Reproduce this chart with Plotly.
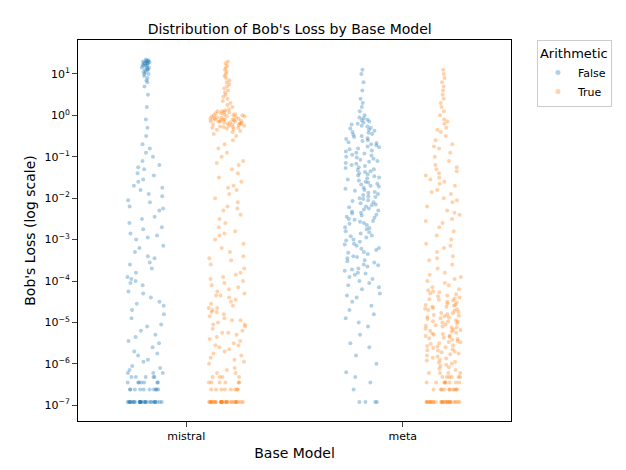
import plotly.graph_objects as go

models = ["mistral", "meta"]
hue_labels = ["False", "True"]
colors = ["#1f77b4", "#ff7f0e"]

# log10 of Bob's loss
mistral_false = [float(v) for v in """
-6.92 -6.92 -6.92 -6.92 -6.92 -6.92 -6.92 -6.92 -6.92 -6.92 -6.92 -6.92 -6.92 -6.92 -6.92 -6.92 -6.92 -6.92 -6.92 -6.92
-6.92 -6.92 -6.92 -6.92 -6.92 -6.92 -6.92 -6.92 -6.92 -6.92 -6.62 -6.62 -6.62 -6.62 -6.62 -6.62 -6.62 -6.62 -6.62 -6.62
-6.45 -6.45 -6.45 -6.45 -6.45 -6.45 -6.45 -6.32 -6.32 -6.32 -6.32 -6.32 -6.22 -6.22 -6.22 -6.15 -6.1 -6.05 -5.95 -5.9
-5.8 -5.7 -5.6 -5.5 -5.45 -5.3 -5.2 -5.1 -5.05 -4.9 -4.8 -4.7 -4.6 -4.5 -4.4 -4.3 -4.25 -4.1 -4.0 -3.9
-3.8 -3.7 -3.6 -3.55 -3.4 -3.3 -3.2 -3.15 -3.0 -2.9 -2.85 -2.7 -2.6 -2.5 -2.45 -2.3 -2.25 -2.1 -2.05 -1.95
-1.9 -1.8 -1.7 -1.6 -1.55 -1.4 -1.3 -1.2 -1.1 -1.0 -0.9 -0.8 -0.7 -0.5 -0.3 -0.1 0.2 0.5 0.7 0.8
0.85 0.9 0.95 1.0 1.0 1.05 1.05 1.1 1.1 1.1 1.15 1.15 1.15 1.2 1.2 1.2 1.22 1.25 1.25 1.25
1.27 1.28 1.3 1.3 1.3 1.32 1.33 1.35 -5.35 -4.05 -3.45 -2.75 -2.2 -1.75 -1.25 -4.55 -5.75 -3.95 -2.95 -1.45
""".split()]

mistral_true = [float(v) for v in """
-6.92 -6.92 -6.92 -6.92 -6.92 -6.92 -6.92 -6.92 -6.92 -6.92 -6.92 -6.92 -6.92 -6.92 -6.92 -6.92 -6.92 -6.92 -6.92 -6.92
-6.92 -6.92 -6.92 -6.92 -6.92 -6.92 -6.92 -6.92 -6.92 -6.92 -6.62 -6.62 -6.62 -6.62 -6.62 -6.62 -6.62 -6.62 -6.45 -6.45
-6.45 -6.45 -6.45 -6.45 -6.32 -6.32 -6.32 -6.32 -6.22 -6.22 -6.15 -6.1 -6.0 -5.95 -5.9 -5.85 -5.8 -5.75 -5.7 -5.65
-5.6 -5.55 -5.5 -5.45 -5.4 -5.35 -5.3 -5.25 -5.2 -5.15 -5.1 -5.05 -5.0 -4.95 -4.9 -4.85 -4.8 -4.75 -4.7 -4.65
-4.6 -4.55 -4.5 -4.45 -4.4 -4.35 -4.3 -4.25 -4.2 -4.15 -4.1 -4.05 -4.0 -3.95 -3.9 -3.85 -3.8 -3.7 -3.6 -3.5
-3.4 -3.3 -3.2 -3.1 -3.0 -2.9 -2.8 -2.7 -2.6 -2.5 -2.4 -2.3 -2.2 -2.1 -2.0 -1.9 -1.8 -1.7 -1.6 -1.5
-1.4 -1.3 -1.2 -1.1 -1.0 -0.9 -0.8 -0.7 -0.6 -0.5 -0.45 -0.4 -0.38 -0.35 -0.33 -0.3 -0.3 -0.28 -0.27 -0.25
-0.25 -0.23 -0.22 -0.2 -0.2 -0.2 -0.18 -0.17 -0.15 -0.15 -0.15 -0.13 -0.12 -0.1 -0.1 -0.1 -0.1 -0.08 -0.07 -0.05
-0.05 -0.05 -0.03 -0.02 0.0 0.0 0.0 0.02 0.03 0.05 0.05 0.07 0.1 0.1 0.12 0.15 0.2 0.25 0.3 0.35
0.4 0.45 0.5 0.55 0.6 0.65 0.7 0.75 0.8 0.85 0.9 0.95 1.0 1.05 1.1 1.15 1.2 1.25 1.3 -0.22
-0.12 -0.02 -0.32 -0.18 -0.08 0.08 -0.28 -0.14 -5.55 -5.25 -4.95 -4.65 -4.35 -5.05 -4.75 -3.45 -2.85 -2.25 -1.75 -1.15
""".split()]

meta_false = [float(v) for v in """
-6.92 -6.92 -6.92 -6.92 -6.62 -6.45 -6.32 -6.2 -6.0 -5.8 -5.6 -5.5 -5.3 -5.1 -5.0 -4.9 -4.8 -4.7 -4.6 -4.5
-4.4 -4.35 -4.3 -4.2 -4.15 -4.1 -4.05 -4.0 -3.95 -3.9 -3.85 -3.8 -3.75 -3.7 -3.65 -3.6 -3.55 -3.5 -3.45 -3.4
-3.35 -3.3 -3.25 -3.2 -3.15 -3.1 -3.05 -3.0 -2.95 -2.9 -2.85 -2.8 -2.75 -2.7 -2.65 -2.6 -2.55 -2.5 -2.45 -2.4
-2.35 -2.3 -2.25 -2.2 -2.15 -2.1 -2.05 -2.0 -1.95 -1.9 -1.85 -1.8 -1.75 -1.7 -1.65 -1.6 -1.55 -1.5 -1.45 -1.4
-1.35 -1.3 -1.25 -1.2 -1.15 -1.1 -1.05 -1.0 -0.95 -0.9 -0.85 -0.8 -0.75 -0.7 -0.65 -0.6 -0.55 -0.5 -0.45 -0.4
-0.35 -0.3 -0.25 -0.2 -0.15 -0.1 -0.05 0.0 0.1 0.2 0.3 0.4 0.6 0.8 1.0 1.1 -1.02 -1.12 -1.22 -0.92
-0.82 -0.72 -1.32 -1.42 -1.52 -1.62 -1.72 -1.82 -1.92 -2.02 -2.12 -2.22 -0.62 -0.52 -0.42 -0.32 -0.22 -0.12 -2.32 -2.42
-2.52 -2.62 -2.72 -2.82 -2.92 -3.02 -3.12 -3.22 -3.32 -3.42 -1.07 -1.17 -1.27 -0.97 -0.87 -0.77 -0.67 -1.37 -1.47 -1.57
-1.67 -1.77 -1.87 -1.97 -2.07 -0.57 -0.47 -0.37 -0.27 -2.17 -2.27 -2.37 -2.47 -2.57 -3.52 -3.62 -3.72 -3.82 -0.17 -0.07
""".split()]

meta_true = [float(v) for v in """
-6.92 -6.92 -6.92 -6.92 -6.92 -6.92 -6.92 -6.92 -6.92 -6.92 -6.92 -6.92 -6.92 -6.92 -6.92 -6.92 -6.92 -6.92 -6.92 -6.92
-6.92 -6.92 -6.92 -6.92 -6.92 -6.62 -6.62 -6.62 -6.62 -6.62 -6.62 -6.62 -6.62 -6.62 -6.62 -6.45 -6.45 -6.45 -6.45 -6.45
-6.45 -6.45 -6.45 -6.32 -6.32 -6.32 -6.32 -6.32 -6.32 -6.22 -6.22 -6.22 -6.22 -6.15 -6.12 -6.08 -6.05 -6.02 -6.0 -5.97
-5.95 -5.92 -5.9 -5.87 -5.85 -5.82 -5.8 -5.77 -5.75 -5.72 -5.7 -5.67 -5.65 -5.62 -5.6 -5.57 -5.55 -5.52 -5.5 -5.47
-5.45 -5.42 -5.4 -5.37 -5.35 -5.32 -5.3 -5.27 -5.25 -5.22 -5.2 -5.17 -5.15 -5.12 -5.1 -5.07 -5.05 -5.02 -5.0 -4.97
-4.95 -4.92 -4.9 -4.87 -4.85 -4.82 -4.8 -4.77 -4.75 -4.72 -4.7 -4.67 -4.65 -4.62 -4.6 -4.57 -4.55 -4.52 -4.5 -4.47
-4.45 -4.42 -4.4 -4.37 -4.35 -4.32 -4.3 -4.27 -4.25 -4.22 -4.2 -4.15 -4.1 -4.05 -4.0 -3.95 -3.9 -3.85 -3.8 -3.7
-3.6 -3.5 -3.4 -3.3 -3.2 -3.1 -3.0 -2.9 -2.8 -2.7 -2.6 -2.5 -2.4 -2.3 -2.2 -2.1 -2.0 -1.9 -1.8 -1.7
-1.6 -1.5 -1.4 -1.3 -1.2 -1.1 -1.0 -0.9 -0.8 -0.7 -0.6 -0.5 -0.4 -0.3 -0.2 -0.1 0.0 0.1 0.2 0.3
0.4 0.5 0.6 0.7 0.8 0.9 1.0 1.1 -5.48 -5.38 -5.28 -5.18 -5.08 -4.98 -4.88 -4.78 -4.68 -4.58 -5.58 -5.68
-1.55 -1.45 -1.35 -1.65 -1.25 -0.35 -0.15 -2.35 -2.55 -3.15 -3.45 -0.75 -1.85 -2.05 -4.98 -5.12 -4.62 -5.33 -4.44 -4.84
""".split()]

values = {("mistral", "False"): mistral_false, ("mistral", "True"): mistral_true,
          ("meta", "False"): meta_false, ("meta", "True"): meta_true}

fig = go.Figure()
for h, c in zip(hue_labels, colors):
    xs, ys = [], []
    for m in models:
        vals = values[(m, h)]
        xs += [m] * len(vals)
        ys += [10 ** v for v in vals]
    fig.add_trace(go.Box(
        x=xs, y=ys, name=h, offsetgroup=h, boxpoints="all", jitter=1.0, pointpos=0,
        fillcolor="rgba(0,0,0,0)", line=dict(color="rgba(0,0,0,0)", width=0),
        marker=dict(color=c, size=4, opacity=0.35, line=dict(width=0)),
        showlegend=False, hoveron="points"))
    fig.add_trace(go.Scatter(x=[None], y=[None], mode="markers", name=h,
                             marker=dict(color=c, size=5, opacity=0.35)))

tv = [10 ** k for k in range(-7, 2)]
tt = ["10<sup>\u2212%d</sup>" % -k if k < 0 else "10<sup>%d</sup>" % k for k in range(-7, 2)]
fig.update_layout(
    width=626, height=470, template="plotly_white", boxmode="group",
    boxgap=0.25, boxgroupgap=0.55,
    font=dict(family="DejaVu Sans", size=12, color="black"),
    title=dict(text="Distribution of Bob's Loss by Base Model", x=0.45, xanchor="center", y=0.965, font=dict(size=14)),
    margin=dict(l=70, r=123, t=32, b=57),
    legend=dict(title=dict(text="Arithmetic"), x=1.06, y=1.0, xanchor="left", yanchor="top",
                bordercolor="#cccccc", borderwidth=1, font=dict(size=11)),
    xaxis=dict(title=dict(text="Base Model", standoff=5), showline=True, mirror=True, linecolor="black",
               ticks="outside", showgrid=False, tickfont=dict(size=11)),
    yaxis=dict(title=dict(text="Bob's Loss (log scale)", standoff=5), type="log", range=[-7.38, 1.82],
               tickvals=tv, ticktext=tt, showline=True, mirror=True, linecolor="black",
               ticks="outside", showgrid=False, zeroline=False, tickfont=dict(size=11)),
)
fig.write_html("out.html")
